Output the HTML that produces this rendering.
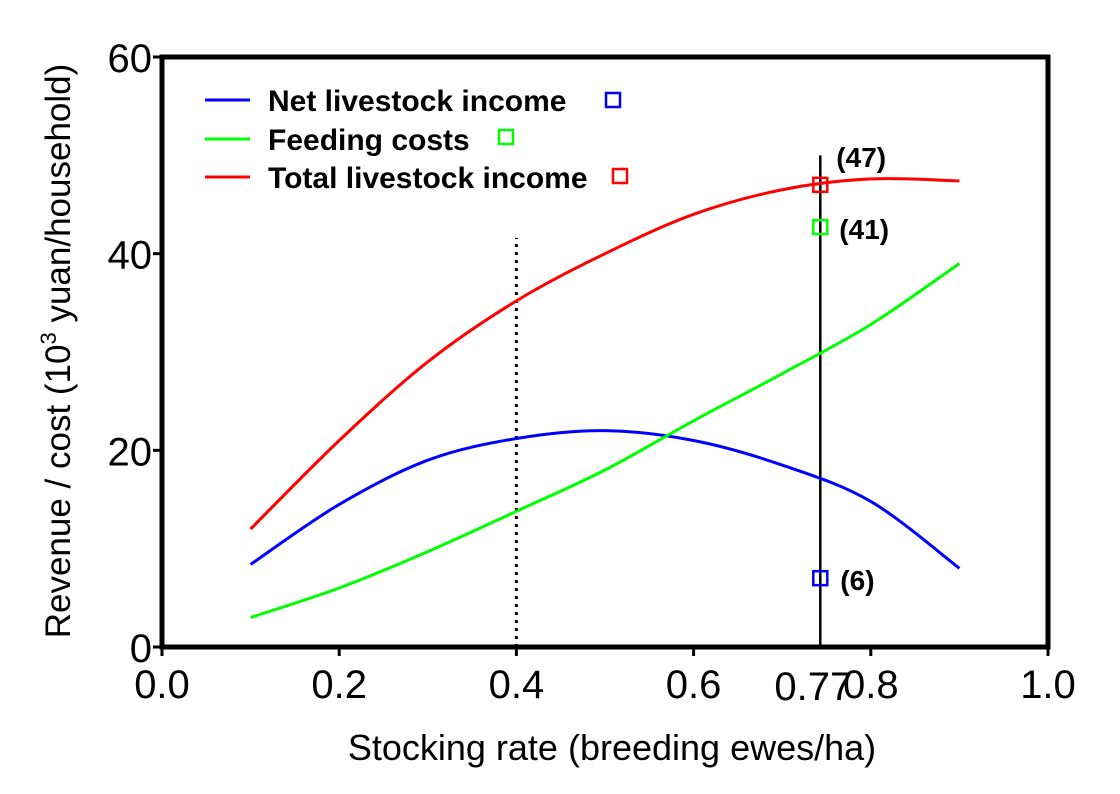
<!DOCTYPE html>
<html><head><meta charset="utf-8"><style>
body{margin:0;background:#fff}
svg{display:block;font-family:"Liberation Sans",Arial,sans-serif}
</style></head><body>
<svg id="chart" width="1120" height="794" viewBox="0 0 1120 794">
<g id="plot"></g>
</svg>
<script>
const xs = [0.1,0.2,0.3,0.4,0.5,0.6,0.7,0.8,0.9];
const totalIncome = [12,21,29,35.2,40,44,46.5,47.6,47.4];
const netIncome = [8.4,14.5,19,21.2,22,21,18.5,14.8,8];
const feedingCosts = [3,6,9.7,13.8,18,23,27.8,32.8,39];
const pointX = 0.743;
const pointValues = [47,42.7,7];
const pointLabels = ["(47)","(41)","(6)"];
const xTicks = [0,0.2,0.4,0.6,0.8,1.0];
const xTickLabels = ["0.0","0.2","0.4","0.6","0.8","1.0"];
const yTicks = [0,20,40,60];
const yTickLabels = ["0","20","40","60"];
const dottedX = 0.4, dottedTop = 41.6, solidTop = 50;

const L=162,R=1048,T=57,B=647;
const sx=v=>L+v*(R-L);
const sy=v=>B-v/60*(B-T);
const NS="http://www.w3.org/2000/svg";
const svg=document.getElementById('chart');
function el(tag,attrs,parent){const e=document.createElementNS(NS,tag);for(const k in attrs)e.setAttribute(k,attrs[k]);(parent||svg).appendChild(e);return e;}
function smooth(vals){
  const p=xs.map((x,i)=>[sx(x),sy(vals[i])]);
  let d="M"+p[0][0]+","+p[0][1];
  for(let i=0;i<p.length-1;i++){
    const p0=p[i-1]||p[i],p1=p[i],p2=p[i+1],p3=p[i+2]||p2;
    const c1=[p1[0]+(p2[0]-p0[0])/6,p1[1]+(p2[1]-p0[1])/6];
    const c2=[p2[0]-(p3[0]-p1[0])/6,p2[1]-(p3[1]-p1[1])/6];
    d+=` C${c1[0]},${c1[1]} ${c2[0]},${c2[1]} ${p2[0]},${p2[1]}`;
  }
  return d;
}
let e=el('line',{x1:sx(dottedX),x2:sx(dottedX),y1:B,y2:sy(dottedTop),stroke:'#000','stroke-width':3,'stroke-dasharray':'3,5'});


e=el('line',{x1:sx(pointX),x2:sx(pointX),y1:B,y2:sy(solidTop),stroke:'#000','stroke-width':2.5});


const series=[[netIncome,'#0000ff','net-income-line'],[feedingCosts,'#00ff00','feeding-costs-line'],[totalIncome,'#ff0000','total-income-line']];
series.forEach(s=>{const c=el('path',{d:smooth(s[0]),fill:'none',stroke:s[1],'stroke-width':3});

});
const mColors=['#ff0000','#00ff00','#0000ff'];
const labOff=[[16,-18],[19,12],[20,12]];
pointValues.forEach((v,i)=>{
  const m=el('rect',{x:sx(pointX)-7,y:sy(v)-7,width:14,height:14,fill:'none',stroke:mColors[i],'stroke-width':2.5});
  
  
  const t=el('text',{x:sx(pointX)+labOff[i][0],y:sy(v)+labOff[i][1],'font-size':28,'font-weight':'bold'});
  t.textContent=pointLabels[i];
  
  
});
e=el('rect',{x:L,y:T,width:R-L,height:B-T,fill:'none',stroke:'#000','stroke-width':5});


xTicks.forEach((v,i)=>{
  const t=el('line',{x1:sx(v),x2:sx(v),y1:B,y2:B+9,stroke:'#000','stroke-width':3});
  
  
  const lb=el('text',{x:sx(v),y:B+51,'font-size':40,'text-anchor':'middle'});
  lb.textContent=xTickLabels[i];
  
  
});
e=el('text',{x:sx(pointX)-7,y:B+53,'font-size':40,'text-anchor':'middle'});
e.textContent='0.77';


yTicks.forEach((v,i)=>{
  const t=el('line',{x1:L-9,x2:L,y1:sy(v),y2:sy(v),stroke:'#000','stroke-width':3});
  
  
  const lb=el('text',{x:L-10,y:sy(v)+15,'font-size':40,'text-anchor':'end'});
  lb.textContent=yTickLabels[i];
  
  
});
</script>
<svg style="position:absolute;left:0;top:0" width="1120" height="794">
<g font-family="Liberation Sans, Arial, sans-serif">
<text x="612" y="760" font-size="36" text-anchor="middle">Stocking rate (breeding ewes/ha)</text>
<text transform="translate(70,351) rotate(-90)" font-size="35" text-anchor="middle">Revenue / cost (10<tspan font-size="22" dy="-14">3</tspan><tspan dy="14"> yuan/household)</tspan></text>
<g font-size="30" font-weight="bold">
<line x1="205" x2="250" y1="100" y2="100" stroke="#0000ff" stroke-width="3"/>
<text x="268" y="111">Net livestock income</text>
<rect x="606" y="93" width="14" height="14" fill="none" stroke="#0000ff" stroke-width="2.5"/>
<line x1="205" x2="250" y1="139" y2="139" stroke="#00ff00" stroke-width="3"/>
<text x="268" y="150">Feeding costs</text>
<rect x="499" y="130" width="14" height="14" fill="none" stroke="#00ff00" stroke-width="2.5"/>
<line x1="205" x2="250" y1="177" y2="177" stroke="#ff0000" stroke-width="3"/>
<text x="268" y="188">Total livestock income</text>
<rect x="613" y="169" width="14" height="14" fill="none" stroke="#ff0000" stroke-width="2.5"/>
</g></g></svg>
</body></html>
